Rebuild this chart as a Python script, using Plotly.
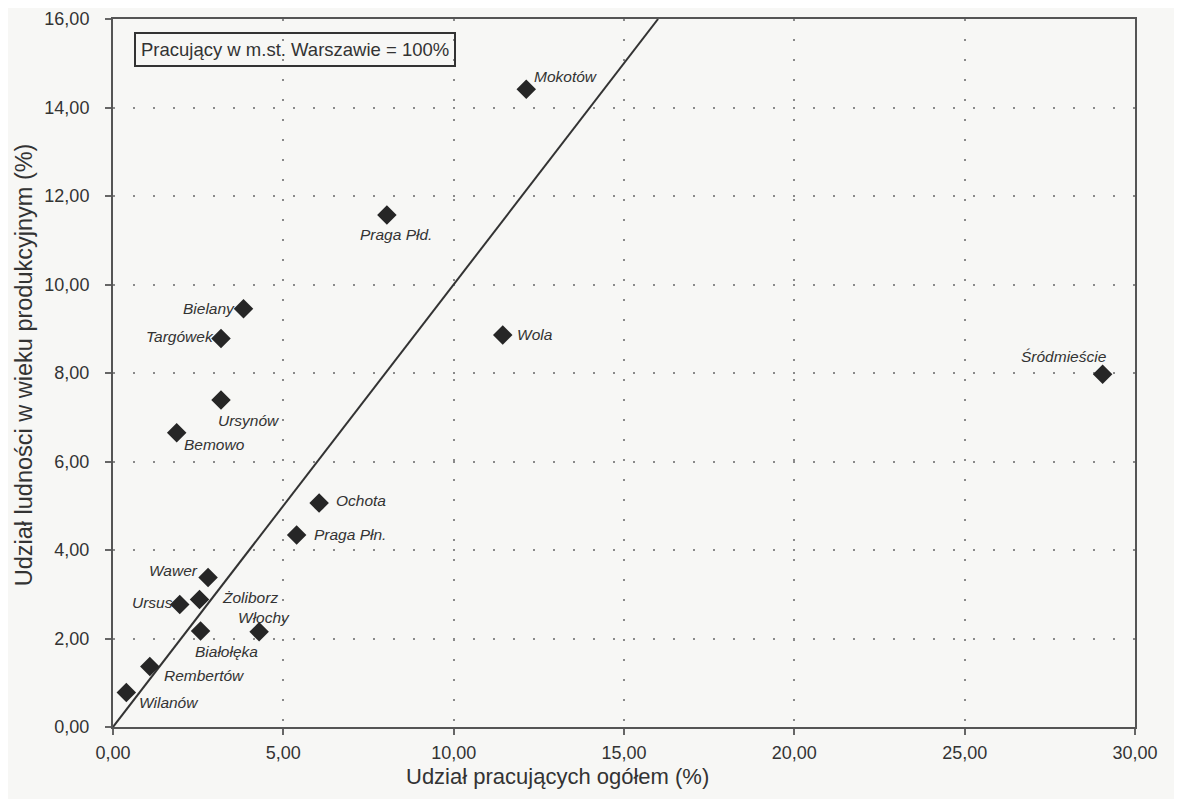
import plotly.graph_objects as go

districts = ["Mokotów", "Praga Płd.", "Bielany", "Targówek", "Wola", "Śródmieście",
             "Ursynów", "Bemowo", "Ochota", "Praga Płn.", "Wawer", "Żoliborz",
             "Ursus", "Białołęka", "Włochy", "Rembertów", "Wilanów"]
workers_share = [12.13, 8.04, 3.83, 3.17, 11.44, 29.05, 3.17, 1.87, 6.05, 5.39,
                 2.79, 2.54, 1.96, 2.57, 4.29, 1.08, 0.39]
working_age_share = [14.41, 11.57, 9.45, 8.78, 8.86, 7.97, 7.39, 6.65, 5.06, 4.34,
                     3.38, 2.88, 2.77, 2.17, 2.15, 1.37, 0.78]
parity_x = [0, 16]
parity_y = [0, 16]
x_ticks = [0, 5, 10, 15, 20, 25, 30]
y_ticks = [0, 2, 4, 6, 8, 10, 12, 14, 16]

# label placement (anchor, xshift, yshift) per district
label_pos = {
    "Mokotów": ("left", 6, 13),
    "Praga Płd.": ("center", 9, -19),
    "Bielany": ("right", -6, 0),
    "Targówek": ("right", -5, 2),
    "Wola": ("left", 12, 0),
    "Śródmieście": ("center", -39, 18),
    "Ursynów": ("center", 28, -21),
    "Bemowo": ("center", 38, -12),
    "Ochota": ("left", 15, 3),
    "Praga Płn.": ("left", 15, 0),
    "Wawer": ("right", -8, 7),
    "Żoliborz": ("left", 20, 2),
    "Ursus": ("right", -5, 2),
    "Białołęka": ("center", 26, -21),
    "Włochy": ("center", 5, 14),
    "Rembertów": ("left", 12, -9),
    "Wilanów": ("left", 11, -10),
}

FONT = "Liberation Sans, Arial"

fig = go.Figure()
fig.add_trace(go.Scatter(x=parity_x, y=parity_y, mode="lines",
                         line=dict(color="#333333", width=2), hoverinfo="skip",
                         showlegend=False))
fig.add_trace(go.Scatter(x=workers_share, y=working_age_share, mode="markers",
                         marker=dict(symbol="diamond", size=15, color="#262626"),
                         text=districts, showlegend=False))

for name, xv, yv in zip(districts, workers_share, working_age_share):
    anc, dx, dy = label_pos[name]
    fig.add_annotation(x=xv, y=yv, text=f"<i>{name}</i>", showarrow=False,
                       xanchor=anc, yanchor="middle", xshift=dx, yshift=dy,
                       font=dict(family=FONT, size=15.5, color="#333333"))

fig.add_annotation(xref="paper", yref="paper", x=0.021, y=0.981, xanchor="left",
                   yanchor="top", text="Pracujący w m.st. Warszawie = 100%",
                   showarrow=False, bordercolor="#333333", borderwidth=2, borderpad=5,
                   bgcolor="rgba(0,0,0,0)",
                   font=dict(family=FONT, size=18.5, color="#333333"))

# axis titles as annotations (positioned as in the original)
fig.add_annotation(xref="paper", yref="paper", x=0.435, y=-0.07, xanchor="center",
                   yanchor="middle", text="Udział pracujących ogółem (%)", showarrow=False,
                   font=dict(family=FONT, size=22, color="#333333"))
fig.add_annotation(xref="paper", yref="paper", x=-0.087, y=0.511, xanchor="center",
                   yanchor="middle", textangle=-90,
                   text="Udział ludności w wieku produkcyjnym (%)", showarrow=False,
                   font=dict(family=FONT, size=23.5, color="#333333"))

grid_style = dict(showgrid=True, gridcolor="#8a8a8a", gridwidth=1.5, griddash="2px,18px",
                  showline=True, linecolor="#555555", linewidth=2, mirror=True,
                  ticks="outside", ticklen=6, tickcolor="#666666", tickwidth=1.5,
                  zeroline=False, tickformat=".2f", automargin=False,
                  tickfont=dict(family=FONT, size=18, color="#333333"))

fig.update_xaxes(range=[0, 30], tickvals=x_ticks, ticklabelstandoff=2, **grid_style)
fig.update_yaxes(range=[0, 16], tickvals=y_ticks, ticklabelstandoff=12, **grid_style)

fig.update_layout(width=1166, height=791, separators=",.",
                  margin=dict(l=105, r=39, t=11, b=72),
                  paper_bgcolor="#f7f7f5", plot_bgcolor="#f7f7f5",
                  font=dict(family=FONT, color="#333333"))

fig.write_html("out.html")
